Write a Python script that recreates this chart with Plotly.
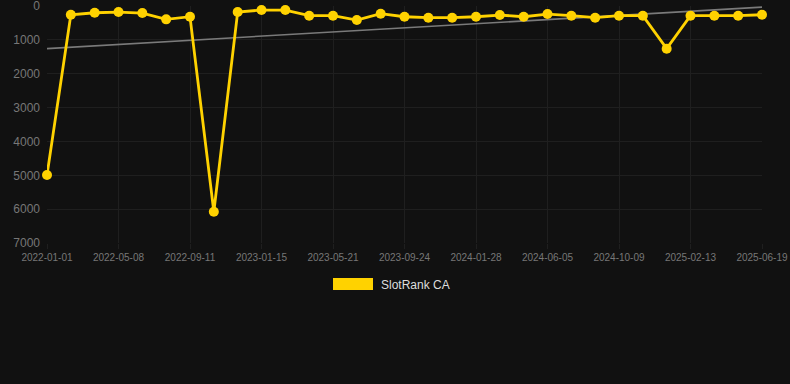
import numpy as np
import plotly.graph_objects as go

dates = [
    "2022-01-01", "2022-02-12", "2022-03-26", "2022-05-08", "2022-06-19", "2022-07-31",
    "2022-09-11", "2022-10-23", "2022-12-04", "2023-01-15", "2023-02-26", "2023-04-09",
    "2023-05-21", "2023-07-02", "2023-08-13", "2023-09-24", "2023-11-05", "2023-12-17",
    "2024-01-28", "2024-03-10", "2024-04-22", "2024-06-05", "2024-07-17", "2024-08-28",
    "2024-10-09", "2024-11-20", "2025-01-01", "2025-02-13", "2025-03-27", "2025-05-08",
    "2025-06-19",
]
ranks = [
    4990, 256, 197, 177, 206, 393, 315, 6077, 177, 118, 118, 285, 285, 413, 226,
    315, 344, 344, 315, 265, 315, 236, 285, 344, 285, 285, 1259, 285, 285, 285, 256,
]
tick_labels = dates[::3]
y_ticks = [0, 1000, 2000, 3000, 4000, 5000, 6000, 7000]
series_name = "SlotRank CA"

idx = np.arange(len(ranks))
slope, intercept = np.polyfit(idx, ranks, 1)
trend = slope * idx + intercept

fig = go.Figure()
fig.add_trace(go.Scatter(
    x=dates, y=trend, mode="lines",
    line=dict(color="#7a7a7a", width=1.6),
    hoverinfo="skip", showlegend=False, cliponaxis=False,
))
fig.add_trace(go.Scatter(
    x=dates, y=ranks, mode="lines+markers", name=series_name,
    line=dict(color="#FFD200", width=2.8),
    marker=dict(color="#FFD200", size=10),
    showlegend=False, cliponaxis=False,
))

fig.update_layout(
    width=790, height=384,
    paper_bgcolor="#111111", plot_bgcolor="#111111",
    margin=dict(l=47, r=28, t=6, b=141, autoexpand=False),
    font=dict(family="Liberation Sans, Arial, sans-serif", color="#777777"),
    xaxis=dict(
        type="category", range=[0, len(dates) - 1],
        tickvals=tick_labels, ticktext=tick_labels,
        tickfont=dict(size=10, color="#777777"),
        showgrid=True, gridcolor="#1f1f1f", gridwidth=1,
        zeroline=False, showline=False,
        ticks="outside", ticklen=5, tickcolor="#1f1f1f",
        ticklabeloverflow="allow", automargin=False,
    ),
    yaxis=dict(
        range=[7000, -2], tickvals=y_ticks,
        tickfont=dict(size=12, color="#777777"),
        showgrid=True, gridcolor="#1f1f1f", gridwidth=1,
        zeroline=False, showline=False,
        ticks="", ticklabelstandoff=6,
        ticklabeloverflow="allow", automargin=False,
    ),
    shapes=[dict(
        type="rect", xref="paper", yref="paper",
        x0=(333 - 47) / 715, x1=(373 - 47) / 715,
        y0=(243 - 290) / 237, y1=(243 - 278) / 237,
        fillcolor="#FFD200", line=dict(width=0),
    )],
    annotations=[dict(
        xref="paper", yref="paper",
        x=(379 - 47) / 715, y=(243 - 284.5) / 237,
        text=series_name, showarrow=False,
        xanchor="left", yanchor="middle",
        font=dict(size=12, color="#dddddd"),
    )],
)

fig.write_html(
    "out.html",
    config={"displayModeBar": False},
    post_script="document.body.style.margin='0';document.body.style.background='#111111';",
)
